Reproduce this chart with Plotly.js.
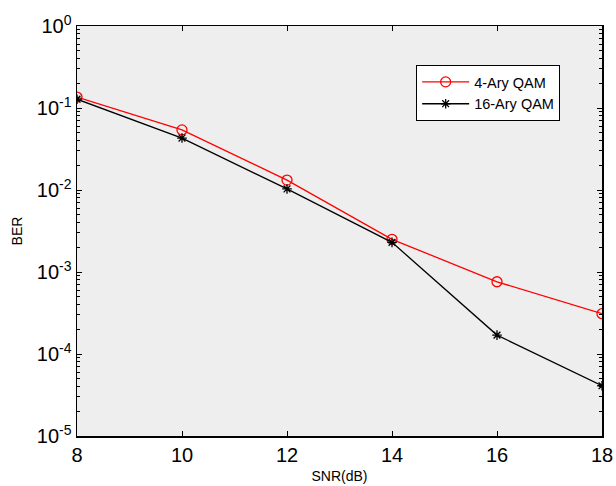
<!DOCTYPE html>
<html><head><meta charset="utf-8">
<script src="https://cdn.plot.ly/plotly-3.0.1.min.js"></script>
<style>body{margin:0;padding:0;background:#fff}#plot{width:616px;height:486px}</style>
</head><body><div id="plot"></div>
<script>
const snr = [8, 10, 12, 14, 16, 18];
const ber4 = [0.136, 0.054, 0.0132, 0.0025, 0.00076, 0.00031];
const ber16 = [0.128, 0.043, 0.0103, 0.0023, 0.00017, 0.000041];
const yTickVals = [1e-5, 1e-4, 1e-3, 1e-2, 1e-1, 1];
const yTickText = ['10<sup>-5</sup>', '10<sup>-4</sup>', '10<sup>-3</sup>', '10<sup>-2</sup>', '10<sup>-1</sup>', '10<sup>0</sup>'];
const xTickVals = [8, 10, 12, 14, 16, 18];

const minorY = [];
for (let e = -5; e < 0; e++) for (let m = 2; m <= 9; m++) minorY.push(m * Math.pow(10, e));

const traces = [
  {x: snr, y: ber4, name: '4-Ary QAM', mode: 'lines+markers',
   line: {color: '#ff0000', width: 1.3},
   marker: {symbol: 'circle-open', size: 10, color: '#ff0000', line: {width: 1.3}}},
  {x: snr, y: ber16, name: '16-Ary QAM', mode: 'lines+markers',
   line: {color: '#000000', width: 1.3},
   marker: {symbol: 'asterisk-open', size: 8, color: '#000000', line: {width: 1.3, color: '#000000'}}}
];

const layout = {
  width: 616, height: 486,
  margin: {l: 77, r: 14, t: 26, b: 50},
  paper_bgcolor: '#ffffff', plot_bgcolor: '#eeeeee',
  font: {family: 'Liberation Sans, Arial, sans-serif', color: '#000'},
  showlegend: true,
  legend: {x: 0.646, y: 0.905, xanchor: 'left', yanchor: 'top',
    bgcolor: '#ffffff', bordercolor: '#000', borderwidth: 1,
    font: {size: 14.5}, tracegroupgap: 0, itemwidth: 47},
  xaxis: {range: [8, 18], tickmode: 'array', tickvals: xTickVals,
    ticks: 'inside', ticklen: 5, tickwidth: 1, tickcolor: '#000',
    showline: true, linecolor: '#000', linewidth: 1.5, mirror: 'ticks',
    showgrid: false, zeroline: false,
    tickfont: {size: 20},
    title: {text: 'SNR(dB)', font: {size: 14}, standoff: 6}},
  yaxis: {type: 'log', range: [-5, 0], tickmode: 'array', tickvals: yTickVals, ticktext: yTickText,
    ticks: 'inside', ticklen: 5, tickwidth: 1, tickcolor: '#000',
    minor: {tickmode: 'array', tickvals: minorY, ticks: 'inside', ticklen: 3, tickcolor: '#000', showgrid: false},
    showline: true, linecolor: '#000', linewidth: 1.5, mirror: 'ticks',
    showgrid: false, zeroline: false,
    tickfont: {size: 20},
    title: {text: 'BER', font: {size: 14}, standoff: 11}}
};

Plotly.newPlot('plot', traces, layout, {displayModeBar: false, staticPlot: true});
</script></body></html>
